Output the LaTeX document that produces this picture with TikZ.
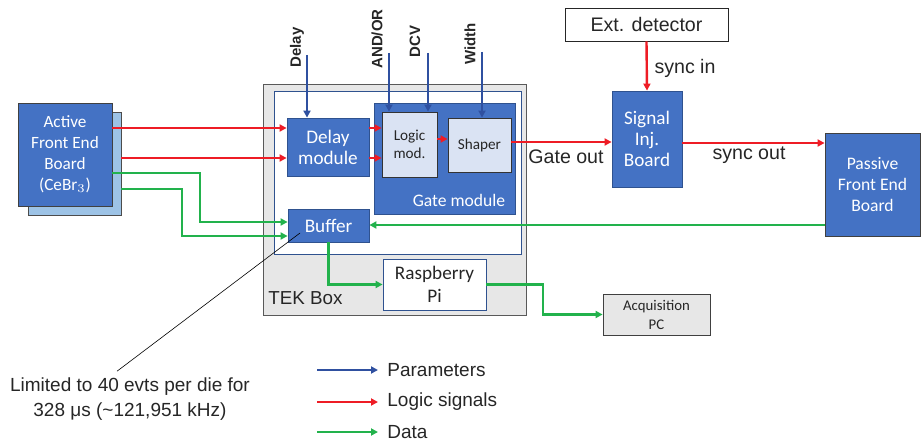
\documentclass[tikz,border=0pt]{standalone}
\usepackage{fontspec}
\setmainfont{Liberation Sans}
\newfontfamily\calibri{Carlito}
\usetikzlibrary{arrows.meta}

\definecolor{boxblue}{HTML}{4472C4}
\definecolor{boxedge}{HTML}{2F528F}
\definecolor{lightfill}{HTML}{DAE3F3}
\definecolor{shadowblue}{HTML}{9DC3E6}
\definecolor{greyfill}{HTML}{E7E7E7}
\definecolor{paramcol}{HTML}{2F50A0}
\definecolor{logiccol}{HTML}{EE1C25}
\definecolor{datacol}{HTML}{22B24C}
\definecolor{inktext}{HTML}{262626}

\tikzset{
  blk/.style={draw=boxedge, fill=boxblue, text=white, align=center, inner sep=0pt,
    font=\calibri\fontsize{9.6}{10.5}\selectfont},
  subblk/.style={draw=black!80, fill=lightfill, text=inktext, align=center, inner sep=0pt,
    font=\calibri\fontsize{7.6}{9}\selectfont},
  whiteblk/.style={draw=boxedge, fill=white, text=inktext, align=center, inner sep=0pt,
    font=\calibri\fontsize{9.6}{11.5}\selectfont},
  plabel/.style={rotate=90, anchor=west, inner sep=0pt, text=inktext,
    font=\bfseries\fontsize{7.5}{9}\selectfont},
  lbl/.style={inner sep=0pt, text=inktext, font=\fontsize{9.8}{12}\selectfont},
  param/.style={draw=paramcol, line width=1pt, -{Triangle[length=3.5pt,width=3.5pt]}},
  logic/.style={draw=logiccol, line width=1.2pt, -{Triangle[length=3.5pt,width=3.5pt]}},
  data/.style={draw=datacol, line width=1.2pt, -{Triangle[length=3.5pt,width=3.5pt]}}
}

\begin{document}
\begin{tikzpicture}[x=0.5pt, y=-0.5pt]
\useasboundingbox (0,0) rectangle (921,443);

% TEK box and its frames
\node[draw=black!65, fill=greyfill, minimum width=131.5pt, minimum height=115.5pt, inner sep=0pt] (tek) at (394.5,199.5) {};
\node[draw=boxedge, fill=white, minimum width=123.5pt, minimum height=81.5pt, inner sep=0pt] (tekin) at (397.5,172.5) {};
\node[lbl, anchor=west, font=\fontsize{9.4}{11}\selectfont] (teklbl) at (268,298) {TEK Box};

% front end boards
\node[draw=black!70, fill=shadowblue, minimum width=46.5pt, minimum height=51.5pt] (febshadow) at (74.5,163.5) {};
\node[blk, draw=black!75, minimum width=47pt, minimum height=51.5pt,
  font=\calibri\fontsize{8.6}{10.5}\selectfont] (feb) at (65,154.5) {Active\\Front End\\Board\\(CeBr$_3$)};
\node[blk, draw=black!75, minimum width=47.5pt, minimum height=51.5pt,
  font=\calibri\fontsize{8.8}{10.5}\selectfont] (pfeb) at (872.5,184.5) {Passive\\Front End\\Board};

% modules
\node[blk, minimum width=41pt, minimum height=29pt] (delay) at (328,147) {Delay\\module};
\node[blk, minimum width=70.5pt, minimum height=55.5pt] (gate) at (444.5,158.5) {};
\node[lbl, text=white, font=\calibri\fontsize{8.8}{10}\selectfont] (gatelbl) at (459,200) {Gate module};
\node[subblk, minimum width=27.5pt, minimum height=32.5pt] (logicmod) at (409.5,144.5) {Logic\\mod.};
\node[subblk, minimum width=31.5pt, minimum height=27pt] (shaper) at (479.5,145) {Shaper};
\node[blk, minimum width=40.5pt, minimum height=16.5pt] (buffer) at (328.5,225.5) {Buffer};
\node[whiteblk, minimum width=51.5pt, minimum height=25.5pt] (rpi) at (434.5,284.5) {Raspberry\\Pi};

% outside boxes
\node[blk, minimum width=35pt, minimum height=48pt] (sib) at (647,139) {Signal\\Inj.\\Board};
\node[draw=black!85, fill=white, minimum width=81.5pt, minimum height=16.5pt, inner sep=0pt,
  text=inktext, font=\fontsize{9.8}{12}\selectfont] (ext) at (646.5,24.5) {Ext. detector};
\node[draw=black!75, fill=greyfill, minimum width=53.5pt, minimum height=20.5pt, inner sep=0pt,
  align=center, text=inktext, font=\calibri\fontsize{7.4}{9.5}\selectfont] (acq) at (656.5,314.5) {Acquisition\\PC};

% parameters
\coordinate (pdelay) at (307,55);
\coordinate (pandor) at (389,53);
\coordinate (pdcv) at (428,53);
\coordinate (pwidth) at (482,52);
\node[plabel] (ldelay) at (297,68) {Delay};
\node[plabel] (landor) at (377,69) {AND/OR};
\node[plabel] (ldcv) at (415,58) {DCV};
\node[plabel] (lwidth) at (470,65) {Width};
\draw[param] (pdelay) -- (pdelay |- delay.north);
\draw[param] (pandor) -- (pandor |- logicmod.north);
\draw[param] (pdcv) -- (pdcv |- logicmod.north);
\draw[param] (pwidth) -- (pwidth |- shaper.north);

% logic signals
\coordinate (ya) at (0,128);
\coordinate (yb) at (0,158);
\draw[logic] (feb.east |- ya) -- (delay.west |- ya);
\draw[logic] (febshadow.east |- yb) -- (delay.west |- yb);
\draw[logic] (delay.east |- ya) -- (logicmod.west |- ya);
\draw[logic] (delay.east |- yb) -- (logicmod.west |- yb);
\draw[logic] (logicmod.east |- 0,139) -- (shaper.west |- 0,139);
\draw[logic] (shaper.east |- 0,142) -- (sib.west |- 0,142);
\draw[logic] (ext.south) -- (sib.north);
\draw[logic] (sib.east |- 0,143) -- (pfeb.west |- 0,143);
\node[lbl] (gateout) at (566,157) {Gate out};
\node[lbl] (syncin) at (685,68) {sync in};
\node[lbl] (syncout) at (749,155) {sync out};

% data
\draw[data] (feb.east |- 0,173) -| (200,222) -- (buffer.west |- 0,222);
\draw[data] (febshadow.east |- 0,189) -| (182,236) -- (buffer.west |- 0,236);
\draw[data] (pfeb.west |- 0,225) -- (buffer.east |- 0,225);
\draw[data] (buffer.south) |- (rpi.west);
\coordinate (bend) at (543,0);
\draw[data] (rpi.east) -| (bend |- acq.west) -- (acq.west);

% note on the buffer
\coordinate (notetip) at (300,233);
\node[lbl, align=center, font=\fontsize{9.5}{12.5}\selectfont] (note) at (130,399)
  {Limited to 40 evts per die for\\328 μs (\textasciitilde121,951 kHz)};
\draw[black, line width=0.3pt] (notetip) -- ([xshift=-6.5pt, yshift=3pt]note.north);

% legend
\node[lbl, anchor=west, font=\fontsize{9.5}{12}\selectfont] (legpar) at (387,370) {Parameters};
\node[lbl, anchor=west, font=\fontsize{9.5}{12}\selectfont] (leglog) at (387,402) {Logic signals};
\node[lbl, anchor=west, font=\fontsize{9.5}{12}\selectfont] (legdat) at (387,432) {Data};
\draw[param] (317,370) -- ([xshift=-4.5pt]legpar.west);
\draw[logic] (317,402) -- ([xshift=-4.5pt]leglog.west);
\draw[data] (317,432) -- ([xshift=-4.5pt]legdat.west);
\end{tikzpicture}
\end{document}
